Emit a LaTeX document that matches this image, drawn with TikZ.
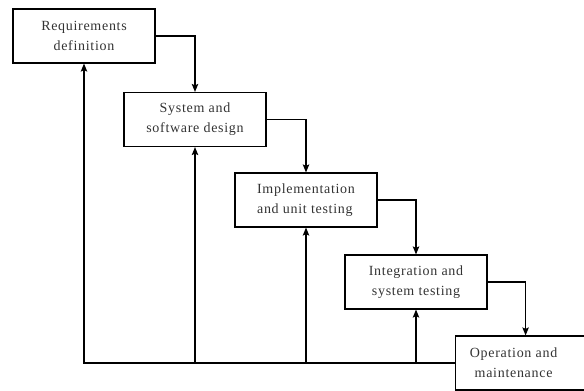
\documentclass[tikz,border=0pt]{standalone}
\usepackage{fontspec}
\setmainfont{Liberation Serif}[LetterSpace=5]
\usetikzlibrary{shapes,arrows.meta,positioning,calc}

\begin{document}
\begin{tikzpicture}[
    x=1pt, y=-1pt,
    stage/.style={rectangle, draw, line width=1.2pt, minimum width=142pt, minimum height=54pt, align=center, text=black!80, font=\fontsize{14}{20}\selectfont, inner sep=2pt},
    arrow/.style={->, line width=1.2pt, >={Stealth[length=8pt, width=6.5pt, inset=1.5pt]}}
]
    \useasboundingbox (0,0) rectangle (584,391);

    % Stages
    \node[stage] (req) at (84,36) {Requirements\\definition};
    \node[stage] (sys) at (195,119.5) {System and\\software design};
    \node[stage, align=left] (impl) at (306,200) {Implementation\\and unit testing};
    \node[stage] (integ) at (416,282) {Integration and\\system testing};
    \node[stage, anchor=west] (ops) at (455,363) {Operation and\hspace*{26pt}\\maintenance\hspace*{26pt}};

    % Forward arrows
    \draw[arrow] (req.east) -| (sys.north);
    \draw[arrow] (sys.east) -| (impl.north);
    \draw[arrow] (impl.east) -| (integ.north);
    \draw[arrow] (integ.east) -| ([xshift=-1pt]ops.north);

    % Feedback arrows
    \draw[arrow] (ops.west) -| (req.south);
    \draw[arrow] (ops.west -| sys.south) -- (sys.south);
    \draw[arrow] (ops.west -| impl.south) -- (impl.south);
    \draw[arrow] (ops.west -| integ.south) -- (integ.south);
\end{tikzpicture}
\end{document}
